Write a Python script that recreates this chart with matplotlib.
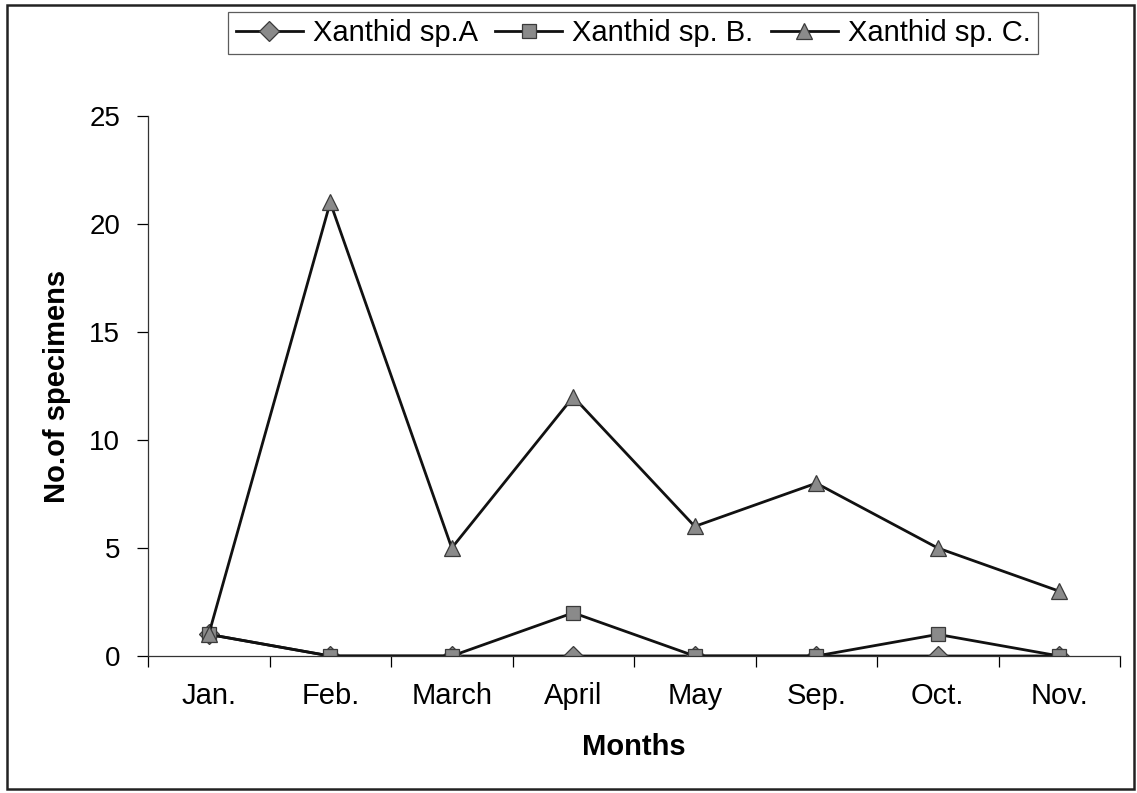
import matplotlib
matplotlib.use("Agg")
import matplotlib.pyplot as plt
from matplotlib.patches import Rectangle

months = ["Jan.", "Feb.", "March", "April", "May", "Sep.", "Oct.", "Nov."]
sp_a = [1, 0, 0, 0, 0, 0, 0, 0]
sp_b = [1, 0, 0, 2, 0, 0, 1, 0]
sp_c = [1, 21, 5, 12, 6, 8, 5, 3]
labels = ["Xanthid sp.A", "Xanthid sp. B.", "Xanthid sp. C."]

plt.rcParams['font.family'] = ['Liberation Sans', 'DejaVu Sans']

W, H = 1137, 793
fig = plt.figure(figsize=(W / 100, H / 100), dpi=100)
ax = fig.add_axes([148 / W, 1 - 656 / H, (1120 - 148) / W, (656 - 116) / H])

x = list(range(len(months)))
mk = dict(markerfacecolor='#8a8a8a', markeredgecolor='#3a3a3a', markeredgewidth=0.9,
          color='#111111', linewidth=2.0)
ax.plot(x, sp_a, marker='D', markersize=10, label=labels[0], **mk)
ax.plot(x, sp_b, marker='s', markersize=10.5, label=labels[1], **mk)
ax.plot(x, sp_c, marker='^', markersize=11, label=labels[2], **mk)

ax.set_xlim(-0.5, len(months) - 0.5)
ax.set_ylim(0, 25)
ax.set_yticks(range(0, 26, 5))
ax.set_xticks(x)
ax.set_xticklabels(months)
ax.set_xticks([i - 0.5 for i in range(len(months) + 1)], minor=True)
ax.tick_params(axis='x', which='major', length=0, pad=19, labelsize=21)
ax.tick_params(axis='x', which='minor', length=8, direction='out', width=0.9)
ax.tick_params(axis='y', length=8, direction='out', width=0.9, labelsize=20, pad=12)
for s in ['top', 'right']:
    ax.spines[s].set_visible(False)
for s in ['left', 'bottom']:
    ax.spines[s].set_linewidth(0.9)
    ax.spines[s].set_color('#333333')

ax.set_xlabel("Months", fontsize=21, fontweight='bold', labelpad=16)
ax.set_ylabel("No.of specimens", fontsize=21, fontweight='bold', labelpad=13)

leg = fig.legend(loc='center', bbox_to_anchor=(633 / W, 1 - 33 / H), ncol=3,
                 fontsize=21, frameon=True, fancybox=False, edgecolor='#333333',
                 handlelength=2.3, handletextpad=0.34, columnspacing=0.6,
                 borderpad=0.25, borderaxespad=0)
leg.get_frame().set_linewidth(0.9)

fig.patches.append(Rectangle((7 / W, 4 / H), 1 - 10 / W, 1 - 9 / H, transform=fig.transFigure,
                             fill=False, edgecolor='#222222', linewidth=1.8))

fig.savefig("out.png", dpi=100)
